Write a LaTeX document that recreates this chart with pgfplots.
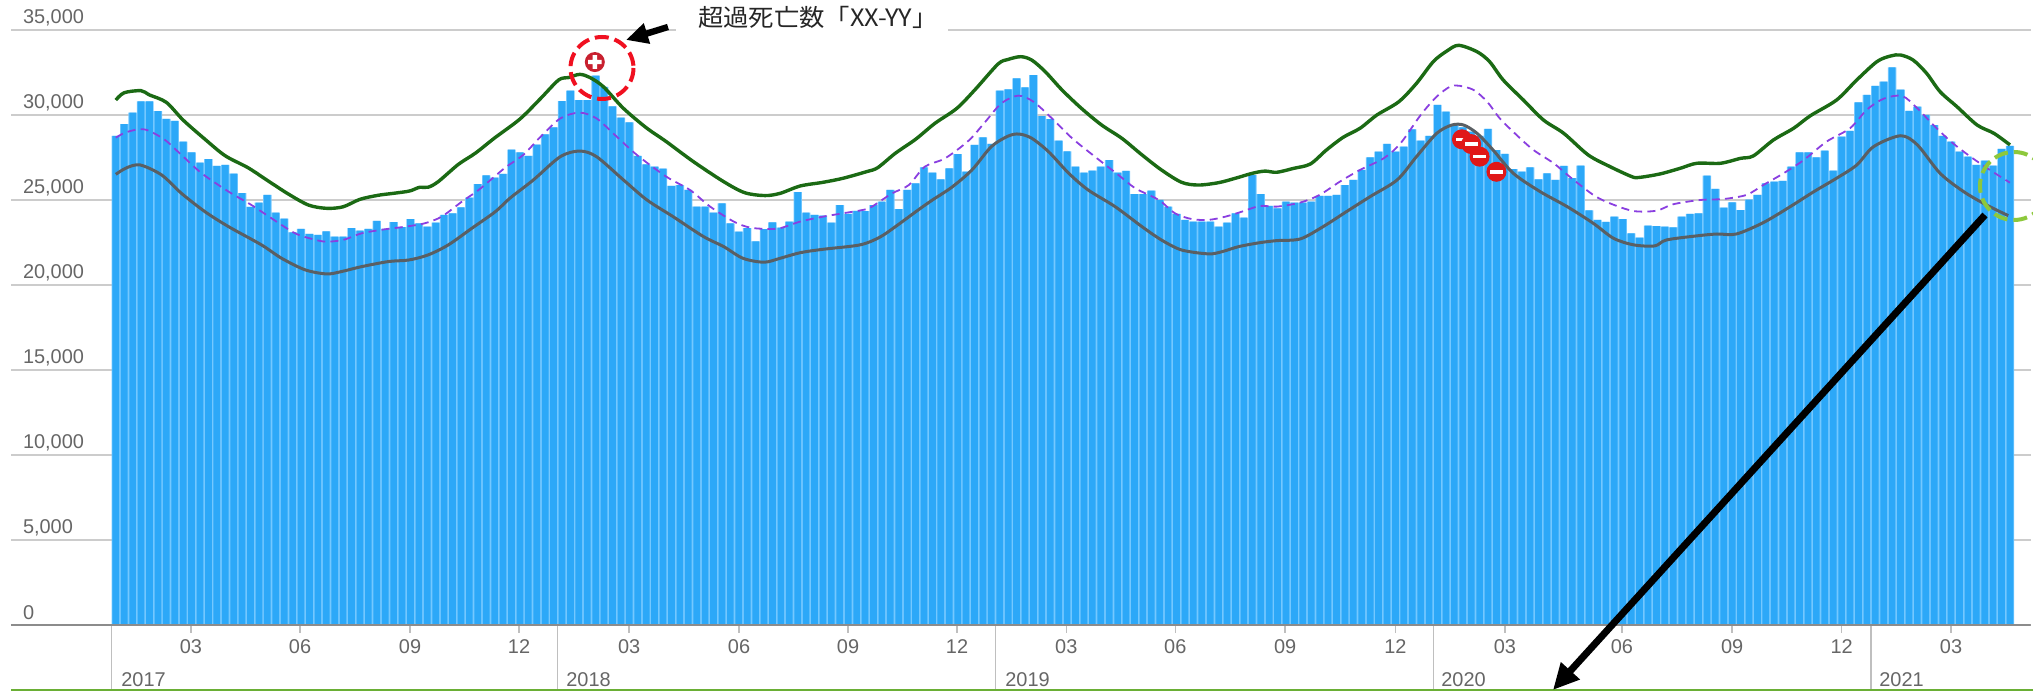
\documentclass[border=0pt]{standalone}
\usepackage{fontspec}
\setmainfont{Liberation Sans}
\newfontfamily\cjk{Noto Sans CJK JP}
\usepackage{pgfplots}
\usepackage{pgfplotstable}
\pgfplotsset{compat=1.18}
\usetikzlibrary{arrows.meta}
\definecolor{barblue}{HTML}{2CA8F8}
\definecolor{gapblue}{HTML}{74C8FF}
\definecolor{upgreen}{HTML}{1B6A14}
\definecolor{lowgray}{HTML}{5A5F63}
\definecolor{midpurple}{HTML}{8A3FE0}
\definecolor{txt}{HTML}{666666}
\definecolor{plusred}{HTML}{C8202F}
\definecolor{minusred}{HTML}{E01818}
\pgfplotstableread{
v
28765
29470
30140
30800
30800
30235
29765
29650
28430
27800
27200
27400
27000
27060
26550
25400
24600
24850
25300
24250
23900
23100
23300
23000
22950
23150
22850
22850
23350
23200
23300
23770
23300
23700
23400
23870
23630
23430
23670
24120
24220
24570
25140
25940
26450
26315
26530
27960
27800
27590
28250
28860
29270
30820
31430
30880
30880
32310
31650
30500
29840
29570
27590
27100
26960
26840
25825
25880
25590
24610
24610
24260
24800
23630
23140
23340
22570
23280
23690
23370
23730
25470
24260
24120
24080
23670
24700
24180
24360
24340
24700
24900
25590
24470
25590
25980
26920
26610
26220
26860
27700
26670
28240
28690
28300
31430
31510
32160
31630
32350
29940
29760
28490
27860
26960
26610
26730
26960
27350
26610
26710
25350
25350
25550
25000
24610
24180
23830
23730
23730
23730
23430
23670
24220
23960
26470
25350
24650
24510
24900
24850
24850
24900
25240
25240
25300
25880
26180
26770
27510
27840
28300
27840
28140
29160
28490
28770
30590
30200
29470
29270
29020
28770
29180
27940
27710
26820
26670
26920
26220
26570
26180
27000
26280
27020
24390
23830
23710
24020
23870
23040
22790
23490
23470
23430
23390
24020
24180
24220
26430
25650
24550
24860
24410
25020
25300
25980
26080
26120
26960
27800
27800
27510
27900
26730
28730
29060
30740
31180
31710
31960
32800
31490
30240
30490
30000
29410
28770
28430
27840
27550
27060
27310
27020
28000
28180
}\deaths
\pgfdeclareplotmark{plusbubble}{%
  \pgfsetfillcolor{plusred}\pgfpathcircle{\pgfpointorigin}{5bp}\pgfusepath{fill}%
  \pgfsetfillcolor{white}%
  \pgfpathrectangle{\pgfpoint{-3.4bp}{-1.1bp}}{\pgfpoint{6.8bp}{2.2bp}}%
  \pgfpathrectangle{\pgfpoint{-1.1bp}{-3.4bp}}{\pgfpoint{2.2bp}{6.8bp}}\pgfusepath{fill}}
\pgfdeclareplotmark{minusbubble}{%
  \pgfsetfillcolor{minusred}\pgfpathcircle{\pgfpointorigin}{5bp}\pgfusepath{fill}%
  \pgfsetfillcolor{white}%
  \pgfpathrectangle{\pgfpoint{-3.2bp}{-.9bp}}{\pgfpoint{6.4bp}{1.8bp}}\pgfusepath{fill}}
\begin{document}
\begin{tikzpicture}
\useasboundingbox (0,0) rectangle (1016.5bp,345.5bp);
\clip (0,0) rectangle (1016.5bp,345.5bp);
\begin{axis}[
  at={(5.5bp,33bp)}, anchor=south west,
  scale only axis, width=1010bp, height=297.5bp,
  xmin=-12.45, xmax=227.5, ymin=0, ymax=35000,
  clip=false,
  axis x line=bottom, axis y line=left,
  axis line style={-},
  x axis line style={draw=gray!80, line width=1bp},
  y axis line style={draw=none},
  ytick={0,5000,10000,15000,20000,25000,30000,35000},
  ymajorgrids,
  grid style={draw=black!20, line width=.8bp},
  /pgf/number format/assume math mode=true,
  /pgf/number format/1000 sep={{,}},
  scaled y ticks=false,
  tick label style={font=\fontsize{10}{12}\selectfont, text=txt},
  yticklabel style={anchor=west, xshift=6.5bp, yshift=6bp},
  y tick style={draw=none},
  xtick={8.93,21.88,34.95,47.9,60.97,74.03,86.98,99.93,112.9,125.85,138.9,152,165,178.9,192,205,218},
  xticklabels={03,06,09,12,03,06,09,12,03,06,09,12,03,06,09,12,03},
  xticklabel style={anchor=north, yshift=0bp},
  tick align=outside,
  x tick style={draw=black!25, line width=.7bp},
  major tick length=4bp,
  extra x ticks={-0.5,52.5,104.5,156.5,208.5},
  extra x tick labels={},
  extra x tick style={major tick length=33bp, tick style={draw=black!55, line width=.9bp}},
]
\addplot[ybar, bar width=4.21bp, bar shift=0pt, fill=gapblue, draw=none, forget plot]
  table[x expr=\coordindex, y=v] {\deaths};
\addplot[ybar, bar width=3.35bp, bar shift=0pt, fill=barblue, draw=none, forget plot]
  table[x expr=\coordindex, y=v] {\deaths};
% lower
\addplot[smooth, tension=.5, color=lowgray, line width=1.5bp, no markers] coordinates {
(0,26510)(1.3,26900)(2.9,27060)(5.45,26470)(7.8,25390)(10.6,24310)(13.4,23430)(17.3,22360)(19.7,21570)(22.5,20890)(25.05,20650)(26.8,20790)(29.2,21080)(32.4,21380)(34.8,21470)(37.1,21770)(39.5,22360)(42.3,23340)(45.1,24320)(46.8,25100)(49.6,26180)(52.8,27550)(55.1,27880)(57.1,27550)(60.3,26180)(63.1,25000)(66.2,24020)(69.8,22850)(72.2,22260)(74.5,21570)(77,21340)(78.9,21570)(81.3,21900)(84,22100)(88.4,22360)(90.7,22800)(92.6,23430)(95.3,24410)(97,25000)(99.3,25750)(101.7,26770)(104,28140)(106,28760)(107.3,28880)(108.8,28630)(110.8,27840)(113.2,26570)(115.5,25590)(118.7,24610)(121.9,23430)(124.2,22650)(126.6,22060)(129.8,21830)(131.4,21960)(133.4,22260)(135.9,22490)(137.9,22610)(140.7,22710)(143.4,23430)(146.2,24320)(149,25200)(152.2,26180)(154.5,27550)(156.9,28920)(158.7,29410)(160.1,29410)(161.7,28920)(163.6,27940)(166,26570)(169.2,25490)(172.4,24610)(175.5,23630)(177.9,22750)(180.3,22360)(182.8,22300)(184.2,22650)(187.8,22890)(190.2,23000)(192.5,23000)(195.7,23670)(198.9,24610)(201.7,25490)(204.4,26280)(206.8,27060)(208.8,28140)(212,28780)(214,28240)(216.7,26570)(219.5,25490)(222.2,24710)(224.8,24080)
};
% middle
\addplot[smooth, tension=.5, color=midpurple, line width=.9bp, dash pattern=on 4bp off 2.6bp, no markers] coordinates {
(0,28670)(1.1,28960)(2.7,29160)(3.9,29080)(5.85,28530)(7.8,27650)(10.2,26570)(13.4,25490)(16.1,24710)(18.5,23920)(21.3,23040)(23.3,22710)(24.9,22550)(27,22650)(29.2,23040)(32,23280)(34.4,23430)(36.7,23630)(38.7,24020)(41.1,24900)(43.1,25590)(44.8,26300)(46.4,26960)(48.4,27650)(50.4,28690)(52.8,29800)(55.1,30140)(57.1,29800)(59.3,28820)(61.9,27650)(65.4,26370)(68.2,25590)(70.6,24610)(73.4,23730)(75.3,23380)(77.3,23300)(78.9,23340)(81.3,23730)(84,24020)(86.4,24220)(89.2,24470)(90.5,24830)(92.2,25390)(94.2,25880)(96.1,26960)(98.5,27450)(101.3,28490)(103.3,29610)(105.2,30690)(107.2,31140)(109,30780)(111.2,29800)(113.6,28630)(116.3,27550)(119.1,26470)(121.1,25690)(123.9,25000)(125.8,24220)(127.8,23880)(129.8,23830)(131.8,24020)(133.8,24320)(135.9,24650)(137.9,24610)(140.7,24850)(143,25300)(145.4,26080)(147.8,26770)(150.6,27450)(152.6,28330)(155,30000)(156.9,31080)(158.5,31670)(159.6,31720)(161.3,31470)(162.9,30780)(164.4,29800)(166.4,28820)(168.4,27940)(170.8,27160)(172.7,26370)(175.5,25300)(177.5,24800)(180.3,24350)(183,24370)(185,24750)(188.2,25000)(191,25060)(193.7,25300)(195.7,25880)(198.1,26570)(200.5,27350)(203.2,28430)(206,29220)(208,30310)(210,30960)(212.2,31120)(214,30390)(215.9,29410)(218,28430)(220.3,27550)(222.6,26770)(225,26020)
};
% upper
\addplot[smooth, tension=.5, color=upgreen, line width=1.7bp, no markers] coordinates {
(0,30880)(1,31310)(3,31430)(4,31180)(6,30745)(8,29700)(10.6,28570)(13,27600)(15.7,26900)(18.1,26120)(20.5,25350)(22.9,24700)(25.05,24510)(27,24600)(29,25040)(31.2,25280)(33.1,25400)(34.9,25530)(36.1,25750)(37.1,25750)(38.3,26080)(40.7,27100)(42.7,27750)(45,28650)(48,29760)(50.4,30940)(52.6,32060)(53.75,32200)(55.1,32390)(56.3,32210)(57.9,31670)(60.3,30390)(63,29255)(65.4,28430)(68.6,27260)(72.2,26080)(74.7,25430)(77.1,25260)(78.9,25390)(81.3,25825)(84,26040)(86.4,26280)(89.2,26670)(90.5,26900)(92.6,27750)(95,28570)(97.3,29510)(99.9,30390)(102.1,31510)(104.8,33000)(106,33270)(107.5,33430)(108.8,33230)(110.4,32550)(112.4,31470)(114.7,30390)(117.1,29410)(119.5,28630)(121.9,27650)(124.2,26770)(126.6,26040)(128.6,25880)(131,26020)(133,26280)(135,26570)(136.5,26700)(137.9,26630)(139.9,26860)(141.9,27120)(143.8,27940)(145.8,28690)(147.8,29220)(149.8,30000)(152.4,30780)(154.5,31860)(156.5,33140)(158.1,33760)(159.5,34100)(161.7,33720)(163.2,33130)(164.8,32060)(167.2,30880)(169.6,29700)(172,28920)(174.9,27650)(177.5,26960)(180.1,26370)(181,26330)(183.4,26530)(185.8,26860)(187.8,27160)(190.6,27160)(193,27450)(194.5,27590)(196.9,28530)(199.3,29220)(201.3,29960)(204.4,30880)(206.8,32060)(209.2,33140)(210.8,33470)(212,33530)(213.5,33230)(215.1,32450)(216.7,31370)(218.7,30490)(221.1,29410)(223.1,28920)(225,28240)
};
\addplot[only marks, mark=plusbubble] coordinates {(56.9,33115)};
\addplot[only marks, mark=minusbubble] coordinates {(159.9,28570)(161,28290)(162,27550)(164,26660)};
\end{axis}
\begin{scope}[x=.5bp,y=-.5bp,yshift=345.5bp]
  % baseline
  \draw[draw=black!45, line width=1bp] (11,625) -- (2030,625);
  % bottom green rule
  \draw[draw={rgb,255:red,106;green,175;blue,53}, line width=1bp] (11,690) -- (2033,690);
  % years
  \foreach \x/\y in {121/2017,566/2018,1005/2019,1441/2020,1879/2021}
    \node[anchor=west, inner sep=0pt, text=txt, font=\fontsize{10}{12}\selectfont] at (\x,680) {\y};
  % annotation
  \fill[white] (676,4) rectangle (948,36);
  \node[text=black!85, inner sep=0pt, font=\cjk\fontsize{12}{14}\selectfont] at (818,17) {\scalebox{1.06}[1]{超過死亡数「XX-YY」}};
  \draw[black, line width=3.2bp, -{Triangle[length=11bp,width=10bp]}] (668,27) -- (626,40);
  \draw[black, line width=3.5bp, -{Triangle[length=13bp,width=12bp]}] (1985,215) -- (1553,690);
  \draw[draw={rgb,255:red,240;green,16;blue,32}, line width=2bp, dash pattern=on 7bp off 3bp] (602,68) ellipse [x radius=31.5, y radius=31];
  \draw[draw={rgb,255:red,141;green,200;blue,60}, line width=2bp, dash pattern=on 7bp off 3bp] (2014,186) ellipse [x radius=34, y radius=34];
\end{scope}
\end{tikzpicture}
\end{document}
